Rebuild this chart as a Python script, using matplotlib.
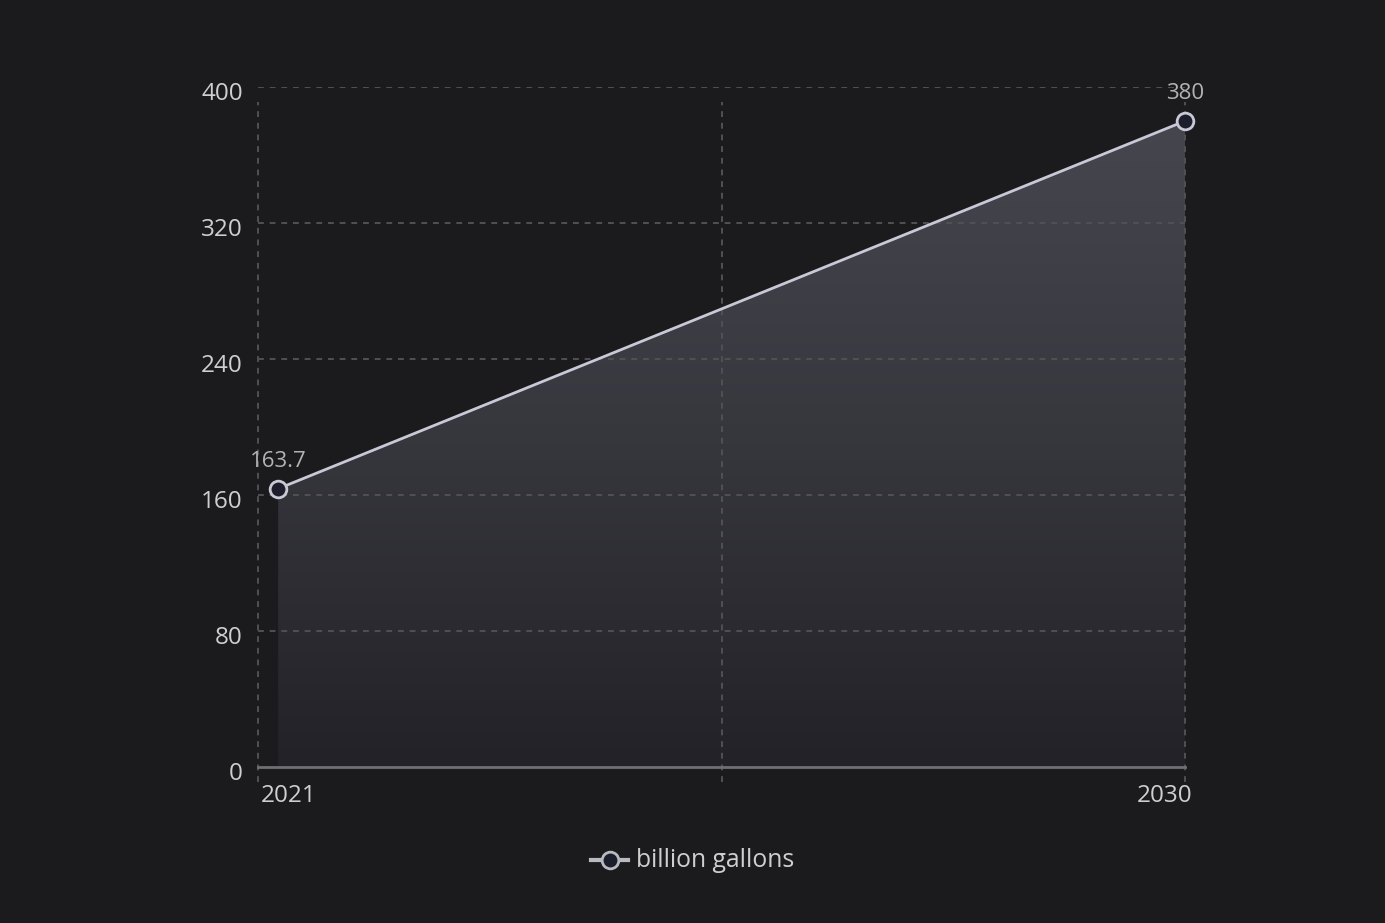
import numpy as np
import matplotlib
matplotlib.use("Agg")
import matplotlib.pyplot as plt
from matplotlib.colors import LinearSegmentedColormap
from matplotlib.transforms import ScaledTranslation

years = [2021, 2030]
values = [163.7, 380]
value_labels = ["163.7", "380"]
y_ticks = [0, 80, 160, 240, 320, 400]
series_name = "billion gallons"

bg = "#1b1a1d"
text_col = "#cfcfd2"
grid_col = "#505055"
line_col = "#c9c8d6"

plt.rcParams['font.family'] = ['Open Sans', 'DejaVu Sans']

fig = plt.figure(figsize=(13.85, 9.23), dpi=100, facecolor=bg)
ax = fig.add_axes([258/1385, 1-767/923, (1185-258)/1385, (767-87)/923])
ax.set_facecolor(bg)

x0, x1 = 2020.8, 2030
ax.set_xlim(x0, x1)
ax.set_ylim(0, 400)

# gradient area
poly = ax.fill_between(years, values, 0, color="none", lw=0, zorder=2)
cmap = LinearSegmentedColormap.from_list("fill", ["#232228", "#36363d", "#46464f"])
grad = np.linspace(0, 1, 256).reshape(-1, 1)
im = ax.imshow(grad, cmap=cmap, origin="lower", aspect="auto",
               extent=[years[0], years[1], 0, max(values)], zorder=2)
im.set_clip_path(poly.get_paths()[0], transform=ax.transData)

# horizontal grid
for t in y_ticks[1:]:
    ax.plot([x0, x1], [t, t], color=grid_col, lw=1.4, ls=(0, (3, 3)), zorder=3)
# vertical grid, running a bit past the bottom axis
for gx in [x0, (x0 + x1) / 2, x1]:
    ax.plot([gx, gx], [-8.8, 391], color=grid_col, lw=1.4, ls=(0, (3, 3)),
            zorder=3, clip_on=False)

ax.plot(years, values, color=line_col, lw=2, zorder=4, clip_on=False)
ax.plot(years, values, ls="none", marker="o", ms=12, mfc="#1c1f2b",
        mec=line_col, mew=2, zorder=5, clip_on=False)

for xv, yv, lab in zip(years, values, value_labels):
    ax.annotate(lab, (xv, yv), xytext=(0, 12), textcoords="offset points",
                ha="center", va="bottom", color="#b3b3b6", fontsize=16)

# bottom axis line
ax.plot([x0, x1], [0, 0], color="#707074", lw=2, zorder=3, clip_on=False)

for s in ax.spines.values():
    s.set_visible(False)
ax.set_yticks(y_ticks)
ax.set_yticklabels([str(t) for t in y_ticks], color=text_col, fontsize=17.5)
ax.tick_params(axis="y", length=0, pad=11)
shift = ScaledTranslation(0, -4 / 100, fig.dpi_scale_trans)
for lab in ax.get_yticklabels():
    lab.set_transform(lab.get_transform() + shift)
ax.set_xticks([])

ax.text(2021.1, -10, "2021", ha="center", va="top", color=text_col, fontsize=17.5)
ax.text(2029.8, -10, "2030", ha="center", va="top", color=text_col, fontsize=17.5)

# legend
ax.plot([0.359, 0.399], [-0.137, -0.137], transform=ax.transAxes, color="#b9b9c2",
        lw=3, clip_on=False)
ax.plot([0.3795], [-0.137], transform=ax.transAxes, marker="o", ms=12,
        mfc="#1c1f2b", mec="#b9b9c2", mew=2, clip_on=False)
ax.text(0.408, -0.137, series_name, transform=ax.transAxes, ha="left",
        va="center", color=text_col, fontsize=17.8)

fig.savefig("out.png", dpi=100, facecolor=bg)
